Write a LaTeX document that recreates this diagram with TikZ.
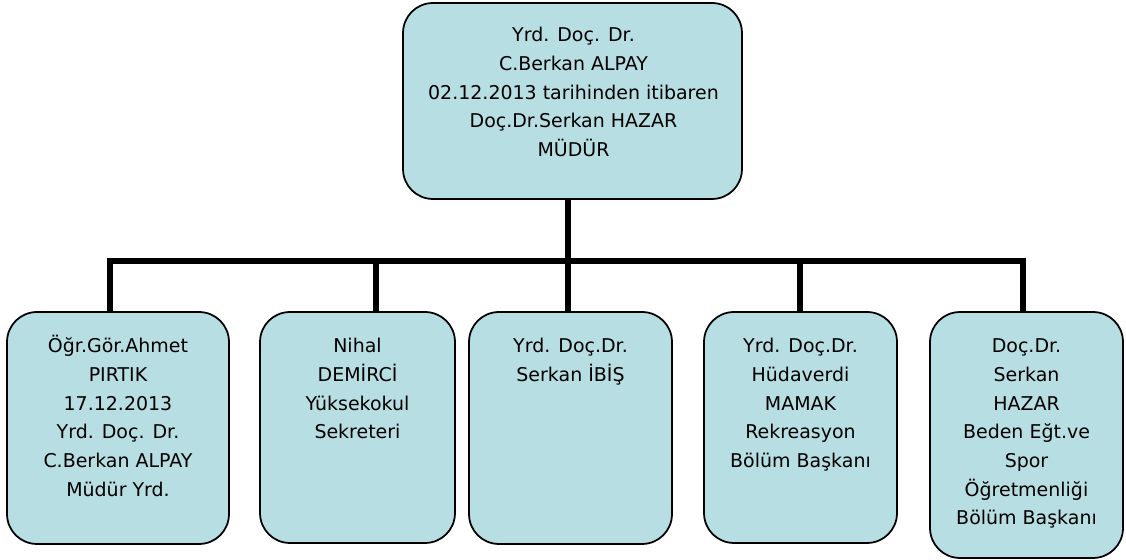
\documentclass[tikz,border=0pt]{standalone}
\usepackage{fontspec}
\setmainfont{DejaVu Sans}
\usepackage{tikz}
\usetikzlibrary{calc}

\definecolor{boxfill}{RGB}{183,222,227}

\tikzset{
    unit/.style={draw=black, line width=1pt, fill=boxfill, rounded corners=17pt, inner sep=0pt},
    txt/.style={align=center, inner sep=0pt, anchor=north, font=\fontsize{10.8}{16.3}\selectfont},
    conn/.style={line width=3.3pt}
}

\begin{document}
\begin{tikzpicture}[x=0.02cm, y=-0.02cm]
        \useasboundingbox (0,0) rectangle (1126,560);

        \coordinate (barL) at (110,261);
        \coordinate (barR) at (1023,261);
        \coordinate (drop2) at (376,261);
        \coordinate (drop3) at (568,261);
        \coordinate (drop4) at (800,261);

        \node[unit, minimum width=6.78cm, minimum height=3.92cm] (mudur) at (572.5,101) {};
        \node[unit, minimum width=4.44cm, minimum height=4.64cm] (yrd) at (118,428) {};
        \node[unit, minimum width=3.9cm, minimum height=4.62cm] (sekreter) at (357.5,427.5) {};
        \node[unit, minimum width=4.06cm, minimum height=4.64cm] (ibis) at (570.5,428) {};
        \node[unit, minimum width=3.86cm, minimum height=4.62cm] (rekreasyon) at (800.5,427.5) {};
        \node[unit, minimum width=3.86cm, minimum height=4.92cm] (beden) at (1026.5,435) {};

        \node[txt] (mudurtxt) at ($(mudur.north)+(1,22)$) {\vphantom{Ö}Yrd. Doç. Dr.\\C.Berkan ALPAY\\02.12.2013 tarihinden itibaren\\Doç.Dr.Serkan HAZAR\\MÜDÜR};
        \node[txt] (yrdtxt) at ($(yrd.north)+(0,24)$) {\vphantom{Ö}Öğr.Gör.Ahmet\\PIRTIK\\17.12.2013\\Yrd. Doç. Dr.\\C.Berkan ALPAY\\Müdür Yrd.};
        \node[txt] (sekretertxt) at ($(sekreter.north)+(0,24)$) {\vphantom{Ö}Nihal\\DEMİRCİ\\Yüksekokul\\Sekreteri};
        \node[txt] (ibistxt) at ($(ibis.north)+(0,24)$) {\vphantom{Ö}Yrd. Doç.Dr.\\Serkan İBİŞ};
        \node[txt] (rekreasyontxt) at ($(rekreasyon.north)+(0,24)$) {\vphantom{Ö}Yrd. Doç.Dr.\\Hüdaverdi\\MAMAK\\Rekreasyon\\Bölüm Başkanı};
        \node[txt] (bedentxt) at ($(beden.north)+(0,24)$) {\vphantom{Ö}Doç.Dr.\\Serkan\\HAZAR\\Beden Eğt.ve\\Spor\\Öğretmenliği\\Bölüm Başkanı};

        % connectors
        \draw[conn] (mudur.south -| drop3) -- (drop3);
        \draw[conn] (barL |- yrd.north) -- (barL) -- (barR) -- (barR |- beden.north);
        \draw[conn] (drop2) -- (drop2 |- sekreter.north);
        \draw[conn] (drop3) -- (drop3 |- ibis.north);
        \draw[conn] (drop4) -- (drop4 |- rekreasyon.north);
\end{tikzpicture}
\end{document}
